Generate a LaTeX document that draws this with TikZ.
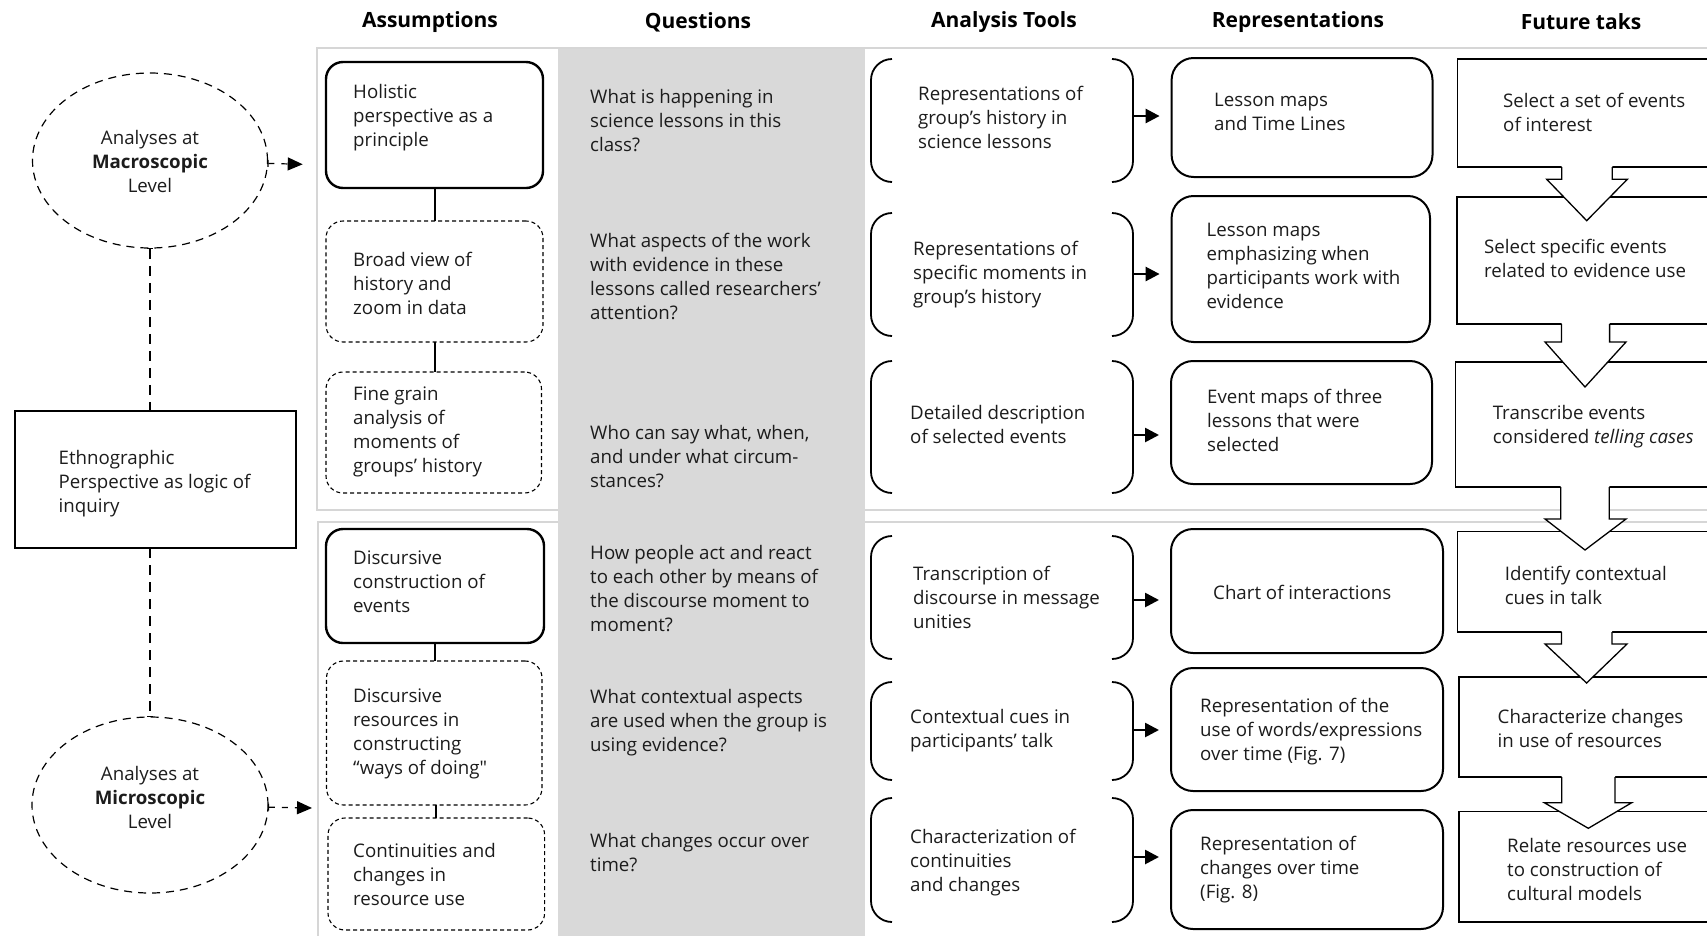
\documentclass[tikz,border=0pt]{standalone}
\usepackage{fontspec}
\setmainfont{Open Sans}
\usetikzlibrary{shapes.geometric,arrows.meta,calc}
\definecolor{txtc}{HTML}{1C1C1C}
\definecolor{colgray}{HTML}{D9D9D9}
\definecolor{panelc}{HTML}{D6D6D6}
\newcommand{\mkbox}[6]{\node[#1, minimum width={#4-#2}, minimum height={#5-#3}] (#6) at ({(#2+#4)/2},{(#3+#5)/2}) {};}
\newcommand{\brk}[1]{%
  \draw[brkline] ([xshift=21pt]#1.north west) -- (#1.north west) -- (#1.south west) -- ([xshift=21pt]#1.south west);
  \draw[brkline] ([xshift=-21pt]#1.north east) -- (#1.north east) -- (#1.south east) -- ([xshift=-21pt]#1.south east);}
\newcommand{\barrow}[8]{%
  \fill[white] ($(#2,0 |- #1.south)+(0,-1.5)$) -- (#2,#6) -- (#4,#6) -- (#7,#8) -- (#5,#6) -- (#3,#6) -- ($(#3,0 |- #1.south)+(0,-1.5)$) -- cycle;
  \draw[ftline] (#2,0 |- #1.south) -- (#2,#6) -- (#4,#6) -- (#7,#8) -- (#5,#6) -- (#3,#6) -- (#3,0 |- #1.south);}
\newcommand{\straightquote}{{\addfontfeatures{Ligatures=TeXOff}"}}
\begin{document}
\begin{tikzpicture}[x=1pt,y=-1pt,
 every node/.style={font=\fontsize{18.7}{24}\selectfont, text=txtc},
 txt/.style={anchor=west, align=left, inner sep=0pt, yshift=-2.3pt, execute at begin node=\strut, execute at end node=\strut},
 ctxt/.style={align=center, inner sep=0pt},
 hdr/.style={font=\fontsize{21}{25}\selectfont\bfseries, text=black, inner sep=0pt},
 sbox/.style={draw=black, line width=2.4pt, rounded corners=17pt, inner sep=0pt, outer sep=0pt},
 dbox/.style={draw=black, line width=1.1pt, dash pattern=on 4pt off 3pt, rounded corners=17pt, inner sep=0pt, outer sep=0pt},
 rbox/.style={draw=black, line width=2pt, rounded corners=22pt, inner sep=0pt, outer sep=0pt},
 ebox/.style={draw=black, line width=1.8pt, inner sep=0pt, outer sep=0pt},
 fbox/.style={draw=black, line width=1.3pt, inner sep=0pt, outer sep=0pt},
 tbox/.style={inner sep=0pt, outer sep=0pt},
 brkline/.style={line width=1.8pt, rounded corners=21pt},
 ftline/.style={line width=1.3pt, line join=miter},
 ell/.style={ellipse, draw=black, line width=1.2pt, dash pattern=on 8pt off 6pt, inner sep=0pt, outer sep=0pt},
 vdash/.style={line width=1.2pt, dash pattern=on 10pt off 7pt},
 darrow/.style={line width=1.2pt, dash pattern=on 6pt off 7pt, {Bar[width=7pt,line width=1.2pt]}-{Triangle[length=15pt,width=13pt]}},
 link/.style={line width=2pt},
 tarrow/.style={line width=2.6pt, -{Triangle[length=14pt,width=14pt]}, shorten >=12pt},
 panel/.style={draw=panelc, line width=2pt},
]
\useasboundingbox (0,0) rectangle (1707,935);
\clip (0,0) rectangle (1707,935);

% panels and grey column
\draw[panel] (317,48) rectangle (1730,510);
\draw[panel] (318,521.5) rectangle (1730,960);
\fill[colgray] (558,49) rectangle (865,936);

% headers
\node[hdr] (hA) at (430,22) {Assumptions};
\node[hdr] (hQ) at (698,22) {Questions};
\node[hdr] (hT) at (1004,22) {Analysis Tools};
\node[hdr] (hR) at (1298,22) {Representations};
\node[hdr] (hF) at (1581,22) {Future taks};

% left column
\node[ell, minimum width=235, minimum height=175] (macro) at (150,160.5) {};
\node[ell, minimum width=236, minimum height=176] (micro) at (150,805) {};
\mkbox{ebox}{15}{411}{296}{548}{ethno}
\node[ctxt] (macrot) at (150,161) {Analyses at\\\textbf{Macroscopic}\\Level};
\node[ctxt] (microt) at (150,797) {Analyses at\\\textbf{Microscopic}\\Level};
\draw[vdash, {Bar[width=6pt,line width=1.2pt]}-] (macro.south) -- (macro.south |- ethno.north);
\draw[vdash, -{Bar[width=6pt,line width=1.2pt]}] (ethno.south -| micro.north) -- (micro.north);
\coordinate (macroTip) at (302.7,164.3);
\coordinate (microTip) at (312,808);
\draw[darrow] (macro) -- (macroTip);
\draw[darrow] (micro) -- (microTip);

% assumptions
\mkbox{sbox}{326}{62}{543}{188}{a1}
\mkbox{dbox}{326}{221}{543}{342}{a2}
\mkbox{dbox}{326}{372}{541.5}{493}{a3}
\mkbox{sbox}{326}{529}{544}{643}{a4}
\mkbox{dbox}{326.5}{661}{542}{805}{a5}
\mkbox{dbox}{328}{818}{544.6}{930}{a6}
\draw[link] (a1.south) -- (a1.south |- a2.north);
\draw[link] (a2.south) -- (a2.south |- a3.north);
\draw[link] (a4.south) -- (a4.south |- a5.north);
\draw[link] (a5.south -| a6.north) -- (a6.north);

% analysis tools
\mkbox{tbox}{871}{59}{1133}{182}{tb1}
\mkbox{tbox}{871}{213}{1133}{336}{tb2}
\mkbox{tbox}{871}{361}{1133}{493}{tb3}
\mkbox{tbox}{871}{536}{1133}{659}{tb4}
\mkbox{tbox}{871}{682}{1133}{780}{tb5}
\mkbox{tbox}{871}{798}{1133}{922}{tb6}
\brk{tb1}\brk{tb2}\brk{tb3}\brk{tb4}\brk{tb5}\brk{tb6}

% representations
\mkbox{rbox}{1171.6}{58}{1432.5}{177}{r1}
\mkbox{rbox}{1171.6}{196}{1430}{342}{r2}
\mkbox{rbox}{1171}{361}{1432}{484}{r3}
\mkbox{rbox}{1171}{529}{1443}{653}{r4}
\mkbox{rbox}{1171}{668}{1443}{791}{r5}
\mkbox{rbox}{1171}{810}{1443}{929}{r6}
\draw[tarrow] (tb1.east |- 0,116) -- (r1.west |- 0,116);
\draw[tarrow] (tb2.east |- 0,274) -- (r2.west |- 0,274);
\draw[tarrow] (tb3.east |- 0,435) -- (r3.west |- 0,435);
\draw[tarrow] (tb4.east |- 0,600) -- (r4.west |- 0,600);
\draw[tarrow] (tb5.east |- 0,730) -- (r5.west |- 0,730);
\draw[tarrow] (tb6.east |- 0,857) -- (r6.west |- 0,857);

% future tasks
\mkbox{fbox}{1457.6}{59}{1740}{167}{f1}
\mkbox{fbox}{1457}{197}{1740}{324}{f2}
\mkbox{fbox}{1455.5}{362}{1740}{487}{f3}
\mkbox{fbox}{1457.6}{531.7}{1740}{632}{f4}
\mkbox{fbox}{1459}{677}{1740}{777}{f5}
\mkbox{fbox}{1459}{811.7}{1740}{922}{f6}
\barrow{f1}{1561.7}{1612.3}{1546.7}{1627.3}{179.3}{1586.7}{220.7}
\barrow{f2}{1561.5}{1609.6}{1545}{1626}{342}{1585}{387}
\barrow{f3}{1560.7}{1609.3}{1545}{1626}{519}{1585}{550}
\barrow{f4}{1561.5}{1612}{1545}{1627}{644}{1586.6}{683}
\barrow{f5}{1561.7}{1615}{1544.3}{1631.7}{802.7}{1588.3}{828.3}

% texts
\begin{scope}[yshift=-1.2pt]
\node[txt] (ethnot) at (58.5,481) {Ethnographic\\Perspective as logic of\\inquiry};
\node[txt] (a1t) at (353,115.5) {Holistic\\perspective as a\\principle};
\node[txt] (a2t) at (353,283) {Broad view of\\history and\\zoom in data};
\node[txt] (a3t) at (353,430) {Fine grain\\analysis of\\moments of\\groups’ history};
\node[txt] (a4t) at (353,582) {Discursive\\construction of\\events};
\node[txt] (a5t) at (353,732) {Discursive\\resources in\\constructing\\“ways of doing\straightquote};
\node[txt] (a6t) at (353,874) {Continuities and\\changes in\\resource use};
\node[txt] (q1) at (590,120) {What is happening in\\science lessons in this\\class?};
\node[txt] (q2) at (590,276) {What aspects of the work\\with evidence in these\\lessons called researchers’\\attention?};
\node[txt] (q3) at (590,456) {Who can say what, when,\\and under what circum-\\stances?};
\node[txt] (q4) at (590,588) {How people act and react\\to each other by means of\\the discourse moment to\\moment?};
\node[txt] (q5) at (590,720) {What contextual aspects\\are used when the group is\\using evidence?};
\node[txt] (q6) at (590,852.5) {What changes occur over\\time?};
\node[txt] (t1) at (918,117) {Representations of\\group’s history in\\science lessons};
\node[txt] (t2) at (913,272) {Representations of\\specific moments in\\group’s history};
\node[txt] (t3) at (910,424) {Detailed description\\of selected events};
\node[txt] (t4) at (913,597) {Transcription of\\discourse in message\\unities};
\node[txt] (t5) at (910,728) {Contextual cues in\\participants’ talk};
\node[txt] (t6) at (910,860) {Characterization of\\continuities\\and changes};
\node[txt] (r1t) at (1214,111.5) {Lesson maps\\and Time Lines};
\node[txt] (r2t) at (1206.5,266) {Lesson maps\\emphasizing when\\participants work with\\evidence};
\node[txt] (r3t) at (1207,420) {Event maps of three\\lessons that were\\selected};
\node[txt] (r4t) at (1213,591) {Chart of interactions};
\node[txt] (r5t) at (1200,729) {Representation of the\\use of words/expressions\\over time (Fig. 7)};
\node[txt] (r6t) at (1200,867) {Representation of\\changes over time\\(Fig. 8)};
\node[txt] (f1t) at (1503,112) {Select a set of events\\of interest};
\node[txt] (f2t) at (1484,258) {Select specific events\\related to evidence use};
\node[txt] (f3t) at (1492.6,424) {Transcribe events\\considered \textit{telling cases}};
\node[txt] (f4t) at (1504.6,585) {Identify contextual\\cues in talk};
\node[txt] (f5t) at (1497.5,728) {Characterize changes\\in use of resources};
\node[txt] (f6t) at (1507,869) {Relate resources use\\to construction of\\cultural models};
\end{scope}
\end{tikzpicture}
\end{document}
